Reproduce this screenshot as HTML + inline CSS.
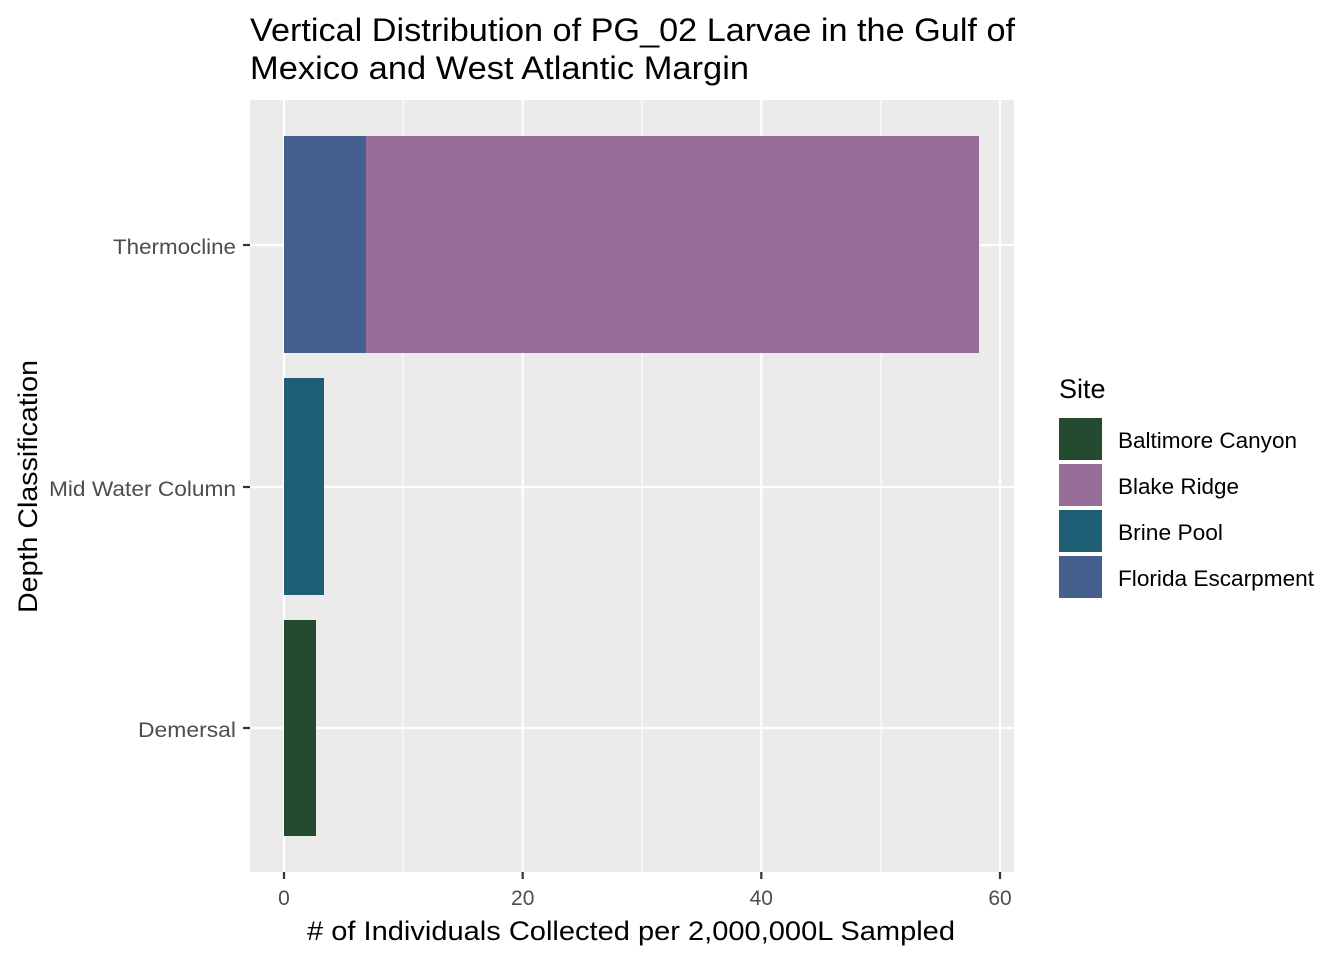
<!DOCTYPE html>
<html><head><meta charset="utf-8"><style>body{margin:0;background:#fff}</style></head><body>
<svg width="1344" height="960" xmlns="http://www.w3.org/2000/svg" font-family="Liberation Sans, Arial, sans-serif">
<rect width="1344" height="960" fill="#fff"/>
<rect x="250" y="100" width="764" height="772" fill="#ebebeb"/>
<g stroke="#fff" stroke-width="1.1">
<line x1="403" y1="100" x2="403" y2="872"/><line x1="642" y1="100" x2="642" y2="872"/><line x1="881" y1="100" x2="881" y2="872"/>
</g>
<g stroke="#fff" stroke-width="2.2">
<line x1="284" y1="100" x2="284" y2="872"/><line x1="522.7" y1="100" x2="522.7" y2="872"/><line x1="761.3" y1="100" x2="761.3" y2="872"/><line x1="1000" y1="100" x2="1000" y2="872"/>
<line x1="250" y1="245" x2="1014" y2="245"/><line x1="250" y1="487" x2="1014" y2="487"/><line x1="250" y1="728" x2="1014" y2="728"/>
</g>
<rect x="284" y="136" width="82" height="217" fill="#45608e"/>
<rect x="366" y="136" width="613" height="217" fill="#976c97"/>
<rect x="284" y="378" width="40" height="217" fill="#1f5f75"/>
<rect x="284" y="620" width="32" height="216" fill="#244a2f"/>
<g stroke="#333" stroke-width="2.2">
<line x1="243" y1="245" x2="250" y2="245"/><line x1="243" y1="487" x2="250" y2="487"/><line x1="243" y1="728" x2="250" y2="728"/>
<line x1="284" y1="872" x2="284" y2="879"/><line x1="522.7" y1="872" x2="522.7" y2="879"/><line x1="761.3" y1="872" x2="761.3" y2="879"/><line x1="1000" y1="872" x2="1000" y2="879"/>
</g>
<g fill="#4d4d4d" font-size="21" text-anchor="end">
<text x="236" y="254" textLength="123" lengthAdjust="spacingAndGlyphs">Thermocline</text>
<text x="236" y="496" textLength="187" lengthAdjust="spacingAndGlyphs">Mid Water Column</text>
<text x="236" y="737" textLength="98" lengthAdjust="spacingAndGlyphs">Demersal</text>
</g>
<g fill="#4d4d4d" font-size="21" text-anchor="middle">
<text x="284" y="905">0</text><text x="522.7" y="905">20</text><text x="761.3" y="905">40</text><text x="1000" y="905">60</text>
</g>
<text x="307" y="940" font-size="27" textLength="648" lengthAdjust="spacingAndGlyphs"># of Individuals Collected per 2,000,000L Sampled</text>
<text transform="translate(37,613) rotate(-90)" font-size="27" textLength="253" lengthAdjust="spacingAndGlyphs">Depth Classification</text>
<text x="250" y="41" font-size="32" textLength="765" lengthAdjust="spacingAndGlyphs">Vertical Distribution of PG_02 Larvae in the Gulf of</text>
<text x="250" y="79" font-size="32" textLength="499" lengthAdjust="spacingAndGlyphs">Mexico and West Atlantic Margin</text>
<text x="1059" y="398" font-size="27">Site</text>
<rect x="1059" y="418" width="43" height="42" fill="#244a2f"/>
<rect x="1059" y="464" width="43" height="42" fill="#976c97"/>
<rect x="1059" y="510" width="43" height="42" fill="#1f5f75"/>
<rect x="1059" y="556" width="43" height="42" fill="#45608e"/>
<g font-size="22">
<text x="1118" y="448" textLength="179" lengthAdjust="spacingAndGlyphs">Baltimore Canyon</text>
<text x="1118" y="494" textLength="121" lengthAdjust="spacingAndGlyphs">Blake Ridge</text>
<text x="1118" y="540" textLength="105" lengthAdjust="spacingAndGlyphs">Brine Pool</text>
<text x="1118" y="586" textLength="196" lengthAdjust="spacingAndGlyphs">Florida Escarpment</text>
</g>
</svg>
</body></html>
